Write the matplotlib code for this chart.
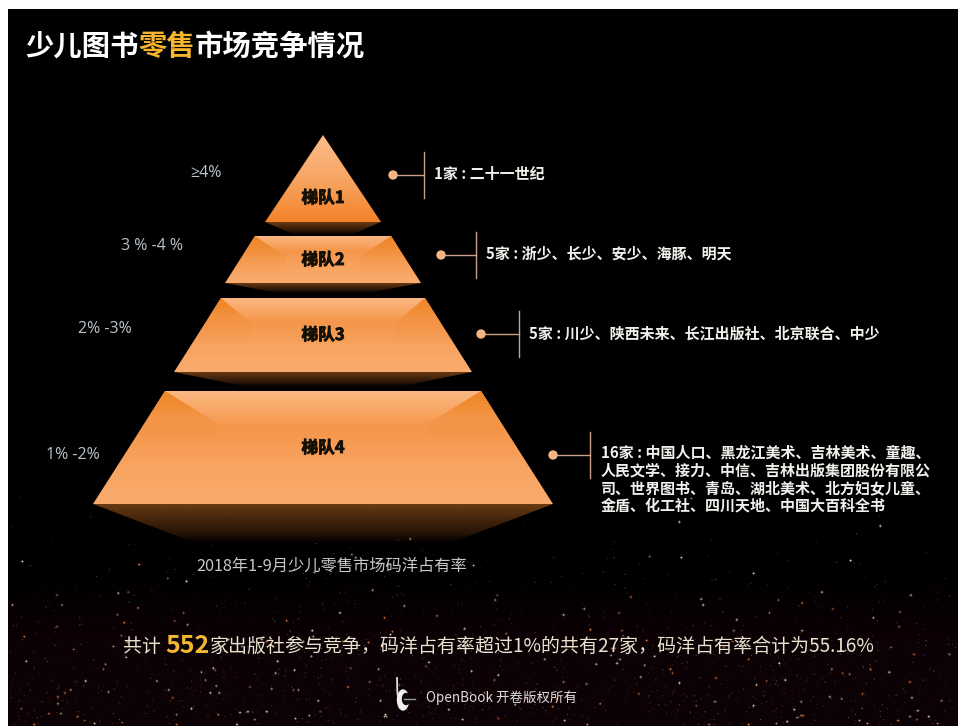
import numpy as np
import matplotlib
matplotlib.use("Agg")
import matplotlib.pyplot as plt
import matplotlib.patheffects as pe
from matplotlib.colors import to_rgb
from matplotlib.patches import Polygon, Circle, Ellipse

plt.rcParams['font.family'] = ['Noto Sans CJK SC', 'DejaVu Sans']

# tiers, top to bottom
tier_names = ["梯队1", "梯队2", "梯队3", "梯队4"]
share_ranges = ["≥4%", "3 % -4 %", "2% -3%", "1% -2%"]
tier_notes = [
    ["1家 : 二十一世纪"],
    ["5家 : 浙少、长少、安少、海豚、明天"],
    ["5家 : 川少、陕西未来、长江出版社、北京联合、中少"],
    ["16家 : 中国人口、黑龙江美术、吉林美术、童趣、",
     "人民文学、接力、中信、吉林出版集团股份有限公",
     "司、世界图书、青岛、湖北美术、北方妇女儿童、",
     "金盾、化工社、四川天地、中国大百科全书"],
]
caption = "2018年1-9月少儿零售市场码洋占有率"
title_runs = [("少儿图书", "white"), ("零售", "#f5b52e"), ("市场竞争情况", "white")]
summary_parts = ["共计 ", "552", "家出版社参与竞争，码洋占有率超过1%的共有27家，码洋占有率合计为55.16%"]
footer = "OpenBook 开卷版权所有"

# pyramid layout in canvas pixels
cx = 323
tier_top = [135, 236, 298, 391]
tier_bottom = [222, 283, 372, 504]
half_top = [0, 68, 102, 158]
half_bottom = [58, 98, 149, 230]
shadow_depth = [13, 10, 15, 40]
shadow_half = [28, 45, 75, 125]
wedge_inset = [0, 31, 30, 52]
wedge_drop = [0, 21, 25, 32]
name_y = [198, 260, 335, 448]
range_x = [206, 152, 105, 73]
range_y = [173, 246, 329, 455]
dot_x = [393, 441, 481, 553]
bar_x = [424, 476, 519, 590]
note_y = [175, 255, 334, 455]
line_step = 18

W, H = 960, 726
fig = plt.figure(figsize=(W / 100, H / 100), dpi=100, facecolor="white")
ax = fig.add_axes([0, 0, 1, 1])
ax.axis("off")


def lerp_colors(stops, n):
    # vertical colour ramp, stops are (pos, colour)
    pos = [s[0] for s in stops]
    rgb = np.array([to_rgb(s[1]) for s in stops])
    t = np.linspace(0, 1, n)
    return np.stack([np.interp(t, pos, rgb[:, i]) for i in range(3)], axis=1)


def gradient_poly(pts, stops, alpha=None, z=2):
    # fill a polygon with a top-to-bottom gradient
    xs = [p[0] for p in pts]
    ys = [p[1] for p in pts]
    n = 128
    img = np.ones((n, 1, 4))
    img[:, 0, :3] = lerp_colors(stops, n)
    if alpha is not None:
        img[:, 0, 3] = np.interp(np.linspace(0, 1, n), [a[0] for a in alpha], [a[1] for a in alpha])
    im = ax.imshow(img, extent=[min(xs), max(xs), max(ys), min(ys)], aspect="auto", zorder=z,
                   interpolation="bilinear")
    im.set_clip_path(Polygon(pts, closed=True, transform=ax.transData))


# night sky backdrop: black, warmer and dustier towards the bottom
rng = np.random.RandomState(7)
sky = np.zeros((H, W, 3))
warm = np.clip((np.arange(H) - 570) / 70.0, 0, 1)
sky[:, :, 0] = warm[:, None] * 0.05
sky[:, :, 1] = warm[:, None] * 0.004
sky[:, :, 2] = warm[:, None] * 0.02
for _ in range(1500):
    y = int(H - 1 - abs(rng.normal(0, 85)))
    x = rng.randint(1, W - 1)
    if y < 470:
        continue
    b = rng.uniform(0.08, 0.4) if rng.rand() < 0.85 else rng.uniform(0.6, 1.0)
    tint = np.array([1.0, 0.55, 0.3]) if rng.rand() < 0.4 else np.array([1.0, 0.95, 0.85])
    sky[y, x] = np.maximum(sky[y, x], tint * b)
    if b > 0.6:
        # brighter stars get a small soft cross
        for dy, dx in ((0, 1), (0, -1), (1, 0), (-1, 0)):
            sky[min(y + dy, H - 1), x + dx] = np.maximum(sky[min(y + dy, H - 1), x + dx], tint * b * 0.5)
ax.imshow(sky, extent=[8, 958, H, 9], aspect="auto", zorder=0, interpolation="bilinear")

for i in range(4):
    top, bot = tier_top[i], tier_bottom[i]
    ht, hb = half_top[i], half_bottom[i]
    pts = [(cx - ht, top), (cx + ht, top), (cx + hb, bot), (cx - hb, bot)]

    # soft shadow under each tier
    d = shadow_depth[i]
    s = shadow_half[i]
    shadow = [(cx - hb, bot), (cx + hb, bot), (cx + s, bot + d), (cx - s, bot + d)]
    gradient_poly(shadow, [(0, "#6b3c14"), (1, "#2a1405")], alpha=[(0, 1), (0.7, 0.7), (1, 0)], z=2)

    if i == 0:
        gradient_poly(pts, [(0, "#fbbd8a"), (0.45, "#f8a868"), (1, "#f3832a")], z=3)
    else:
        gradient_poly(pts, [(0, "#fbb882"), (0.32, "#f5964a"), (0.65, "#f8a360"), (1, "#faac6e")], z=3)
        # darker wedges in the two upper corners, fading into the face
        h = bot - top
        low = top + wedge_drop[i] * 1.8
        edge = ht + (hb - ht) * (low - top) / h
        inner = cx - ht + wedge_inset[i]
        left = [(cx - ht, top), (inner, top + wedge_drop[i]), (inner, low), (cx - edge, low)]
        right = [(2 * cx - x, y) for x, y in left]
        for wedge in (left, right):
            gradient_poly(wedge, [(0, "#ef8424"), (1, "#f5964a")],
                          alpha=[(0, 1), (0.3, 0.85), (0.55, 0.3), (1, 0)], z=4)

    # tier name on the face, thickened a little
    ax.text(cx, name_y[i], tier_names[i], color="#141008",
            fontsize=12, fontweight="black", ha="center", va="center", zorder=6,
            path_effects=[pe.withStroke(linewidth=0.6, foreground="#141008")])

    # share range on the left
    ax.text(range_x[i], range_y[i], share_ranges[i], color="#b9c3ca", fontsize=11.5,
            family=['Open Sans', 'DejaVu Sans'], ha="center", va="center", zorder=6)

    # connector: dot, stem, upright bar
    ax.plot([dot_x[i], bar_x[i]], [note_y[i], note_y[i]], color="#c99f86", lw=1.0, zorder=5)
    ax.plot([bar_x[i], bar_x[i]], [note_y[i] - 23, note_y[i] + 23], color="#c99f86", lw=1.0, zorder=5)
    ax.add_patch(Circle((dot_x[i], note_y[i]), 4, color="#f3b585", zorder=6))

    # publishers in the tier
    for k, line in enumerate(tier_notes[i]):
        if len(tier_notes[i]) > 1:
            y = note_y[i] - 3 + k * line_step
        else:
            y = note_y[i] - 1
        ax.text(bar_x[i] + 10 + (1 if i == 3 else 0), y, line, color="#f2f0ec", fontsize=10.8,
                fontweight="bold", ha="left", va="center", zorder=6)


def draw_runs(x, y, runs):
    # lay out coloured pieces of text one after another
    r = fig.canvas.get_renderer()
    for s, color, size, weight in runs:
        t = ax.text(x, y, s, color=color, fontsize=size, fontweight=weight,
                    ha="left", va="center", zorder=6)
        x += t.get_window_extent(r).width


# title is all full-width glyphs, so step by the em
title_x = 25
title_size = 20.4
for s, c in title_runs:
    ax.text(title_x, 47, s, color=c, fontsize=title_size, fontweight="bold",
            ha="left", va="center", zorder=6)
    title_x += len(s) * title_size * 100 / 72

ax.text(332, 566, caption, color="#c8c8c8", fontsize=11.7, ha="center", va="center", zorder=6)
draw_runs(123, 646, [(summary_parts[0], "#e9e3cf", 13.65, "normal"),
                     (summary_parts[1], "#f3b833", 18, "bold"),
                     (summary_parts[2], "#e9e3cf", 13.65, "normal")])
ax.text(426, 698, footer, color="#dcdcdc", fontsize=9.7, ha="left", va="center", zorder=6)

# small logo beside the footer: a stem and a crescent
ax.plot([397, 397.3, 398.5], [678, 692, 700], color="#e0e0e0", lw=1.3, zorder=6)
ax.add_patch(Ellipse((403, 700), 11, 20, color="#f0f0f0", zorder=6))
ax.add_patch(Ellipse((406, 699), 7, 11, color="#0c0406", zorder=6))
ax.plot([404, 415], [699, 699], color="#9a9a9a", lw=1.0, zorder=7)

ax.set_xlim(0, W)
ax.set_ylim(H, 0)
fig.savefig("out.png", dpi=100, facecolor="white")
